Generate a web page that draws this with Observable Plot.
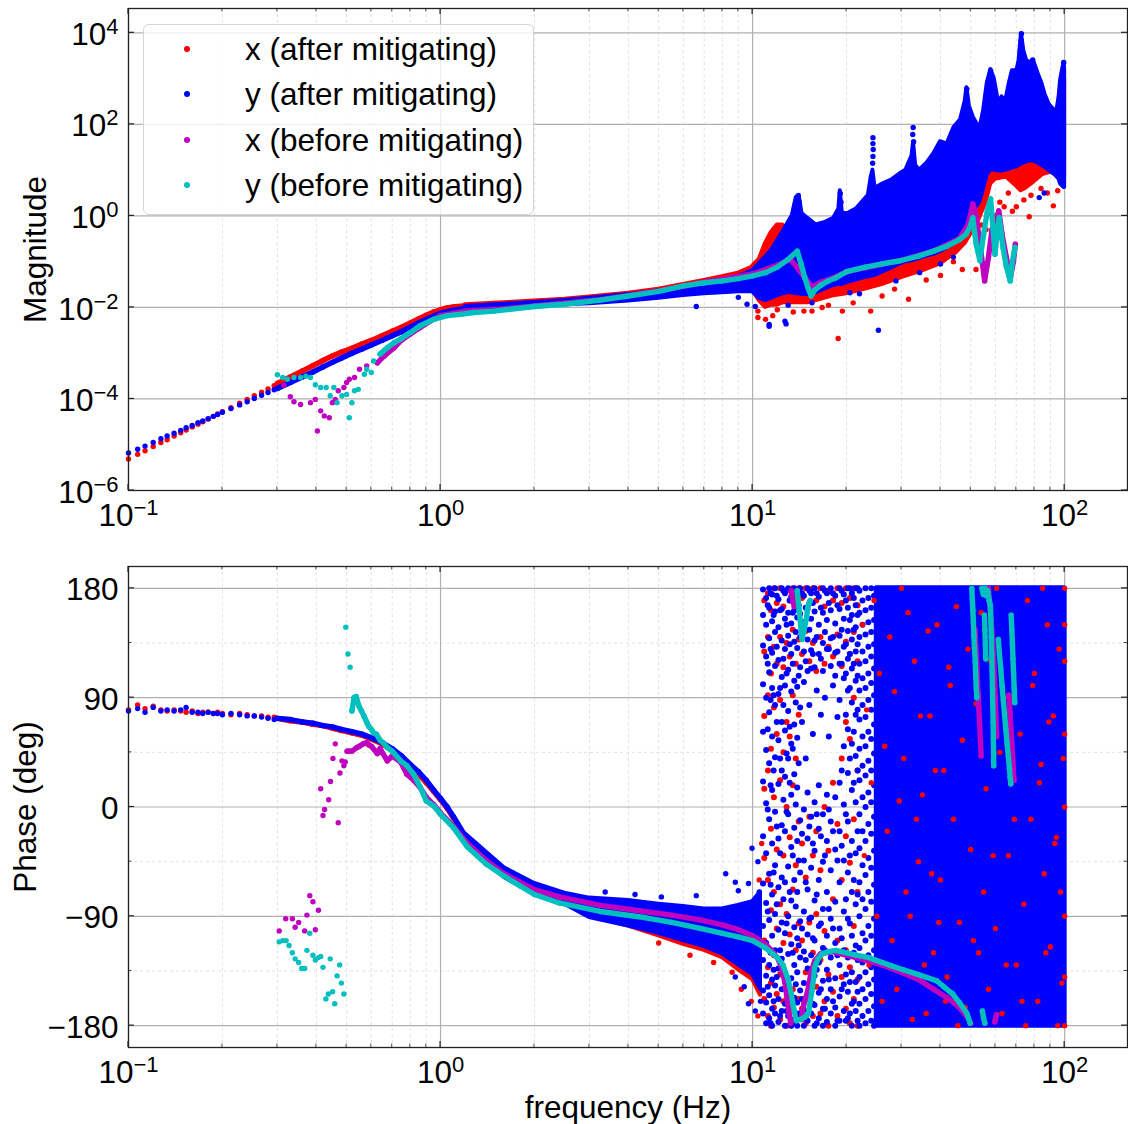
<!DOCTYPE html>
<html>
<head>
<meta charset="utf-8">
<script src="https://cdn.jsdelivr.net/npm/d3@7"></script>
<script src="https://cdn.jsdelivr.net/npm/@observablehq/plot@0.6"></script>
<style>
  html, body { margin: 0; padding: 0; background: #fff; }
  #wrap { position: relative; width: 1128px; height: 1124px; overflow: hidden; font-family: "Liberation Sans", Arial, Helvetica, sans-serif; }
  #wrap svg { display: block; }
  .legend { position: absolute; left: 143px; top: 24px; width: 391px; height: 191px; box-sizing: border-box; background: rgba(255,255,255,0.8); border: 1px solid #d6d6d6; border-radius: 6px; }
  .legend .item { position: absolute; left: 0; height: 40px; width: 100%; }
  .legend .sw { position: absolute; left: 40px; top: 17px; width: 6px; height: 6px; border-radius: 50%; }
  .legend .lab { position: absolute; left: 101px; top: 0; line-height: 40px; font-size: 31.5px; color: #000; white-space: nowrap; }
</style>
</head>
<body>
<div id="wrap">
  <div id="mag"></div>
  <div id="phase"></div>
  <div class="legend">
    <div class="item" style="top:4px"><span class="sw" style="background:#ff0000"></span><span class="lab">x (after mitigating)</span></div>
    <div class="item" style="top:49px"><span class="sw" style="background:#0000ff"></span><span class="lab">y (after mitigating)</span></div>
    <div class="item" style="top:95px"><span class="sw" style="background:#bf00bf"></span><span class="lab">x (before mitigating)</span></div>
    <div class="item" style="top:140px"><span class="sw" style="background:#00bfbf"></span><span class="lab">y (before mitigating)</span></div>
  </div>
</div>
<script>
// ---------------- ticks / labels ----------------
const xMajor = [0.1, 1, 10, 100];
const xMinor = [0.2,0.3,0.4,0.5,0.6,0.7,0.8,0.9,2,3,4,5,6,7,8,9,20,30,40,50,60,70,80,90];
const xTickLabels = ["10^\u22121", "10^0", "10^1", "10^2"];
const magMajor = [1e-6, 1e-4, 1e-2, 1, 1e2, 1e4];
const magTickLabels = ["10^\u22126", "10^\u22124", "10^\u22122", "10^0", "10^2", "10^4"];
const phaseMajor = [-180, -90, 0, 90, 180];
const phaseMinor = [-135, -45, 45, 135];
const phaseTickLabels = ["\u2212180", "\u221290", "0", "90", "180"];

// ---------------- after mitigating: low-frequency points (magnitude as log10) ----------------
const lowF = [0.100,0.107,0.113,0.120,0.127,0.133,0.140,0.147,0.153,0.160,0.167,0.173,0.180,0.187,0.193,0.200,0.213,0.227,0.240,0.253,0.267,0.280,0.293];
const xAfterLowMagExp = [-5.31,-5.21,-5.13,-5.04,-4.95,-4.89,-4.81,-4.74,-4.68,-4.61,-4.55,-4.50,-4.44,-4.38,-4.33,-4.28,-4.19,-4.09,-4.01,-3.93,-3.85,-3.78,-3.71];
const yAfterLowMagExp = [-5.18,-5.10,-5.03,-4.95,-4.87,-4.81,-4.75,-4.69,-4.63,-4.58,-4.52,-4.48,-4.43,-4.38,-4.34,-4.29,-4.21,-4.13,-4.06,-3.99,-3.92,-3.86,-3.80];
const xAfterLowPhase = [80,84,81,83,80,79,80,79,78,79,77,78,78,77,78,77,76,77,76,75,75,74,74];
const yAfterLowPhase = [79,81,78,82,79,80,79,80,82,78,78,77,78,77,77,76,77,76,75,75,74,73,72];

const midF = [0.30,0.33,0.36,0.39,0.42,0.45,0.48,0.52,0.56,0.60,0.65,0.70,0.75,0.80,0.85,0.90,0.95,1.00,1.05,1.10,1.20];
const xAfterMidMagExp = [-3.66,-3.52,-3.39,-3.27,-3.16,-3.06,-2.98,-2.89,-2.80,-2.72,-2.62,-2.52,-2.43,-2.34,-2.25,-2.17,-2.10,-2.05,-2.01,-1.99,-1.96];
const yAfterMidMagExp = [-3.77,-3.64,-3.52,-3.41,-3.30,-3.20,-3.11,-3.00,-2.91,-2.82,-2.72,-2.62,-2.53,-2.43,-2.34,-2.26,-2.19,-2.13,-2.09,-2.06,-2.02];
const xAfterMidPhase = [73,71,70,68,67,65,63,61,59,56,52,47,41,34,27,20,13,6,-1,-9,-25];
const yAfterMidPhase = [73,72,70,69,67,66,64,62,60,57,53,48,42,35,29,22,14,7,0,-8,-24];

// ---------------- after mitigating: 1.2–10 Hz scatter bands ----------------
const bandF = [1.2,1.6,2.0,2.5,3.0,4.0,5.0,6.0,7.0,8.0,9.0,10.0];
const xAfterBandMagLoExp = [-2.00,-1.96,-1.94,-1.90,-1.86,-1.80,-1.74,-1.66,-1.60,-1.55,-1.50,-1.46];
const xAfterBandMagHiExp = [-1.94,-1.90,-1.86,-1.82,-1.77,-1.69,-1.60,-1.50,-1.41,-1.33,-1.25,-1.12];
const yAfterBandMagLoExp = [-2.04,-2.00,-1.97,-1.94,-1.92,-1.86,-1.80,-1.74,-1.70,-1.68,-1.66,-1.66];
const yAfterBandMagHiExp = [-1.98,-1.93,-1.89,-1.85,-1.80,-1.72,-1.64,-1.56,-1.48,-1.40,-1.32,-1.20];
const phBandF = [1.2,1.6,2.0,2.5,3.0,4.0,5.0,6.0,7.0,8.0,9.0,10.0,10.6];
const xAfterBandPhLo = [-29,-57,-71,-79,-90,-98,-106,-113,-118,-124,-134,-142,-155];
const xAfterBandPhHi = [-23,-51,-64,-72,-77,-80,-84,-86,-88,-88,-86,-82,-72];
const yAfterBandPhLo = [-30,-58,-72,-80,-91,-98,-104,-110,-115,-121,-130,-138,-150];
const yAfterBandPhHi = [-22,-50,-63,-71,-75,-77,-80,-82,-84,-84,-81,-78,-70];

// ---------------- after mitigating: 10–100 Hz magnitude clouds (envelopes, log10) ----------------
const xAfterCloudF = [10,10.5,11,11.5,12,12.5,13,14,15,16,18,20,23,26,30,35,40,45,48,50,53,56,58,60,65,70,72.5,75,80,85,90,95,100];
const xAfterCloudLoExp = [-1.62,-1.85,-2.00,-1.95,-1.95,-1.90,-1.90,-1.90,-1.90,-1.85,-1.75,-1.70,-1.60,-1.50,-1.35,-1.20,-1.05,-0.80,-0.60,-0.40,-0.10,0.30,0.70,0.80,0.85,0.65,0.55,0.60,0.75,0.90,0.95,0.90,0.85];
const xAfterCloudHiExp = [-1.10,-0.95,-0.60,-0.35,-0.20,-0.20,-0.35,-0.30,-0.35,-0.40,-0.30,-0.20,0.00,0.30,0.60,0.80,1.10,1.40,1.70,1.60,1.50,1.80,2.90,2.30,2.40,2.60,3.80,3.00,3.00,2.50,2.20,2.20,3.00];
const yAfterCloudF = [10.0,10.5,11.0,11.5,12.0,12.5,13.0,13.4,13.8,14.1,14.4,15.0,16.0,17.0,18.2,18.9,19.1,19.4,20.2,21.5,22.5,23.5,24.0,24.3,24.7,26.2,27.9,29.7,31.0,32.4,32.8,33.3,34.3,36.2,38.0,40.0,42.0,44.2,46.4,48.0,48.6,49.5,51.0,53.5,55.0,56.5,58.0,59.5,61.5,63.0,64.7,66.5,68.0,69.7,71.5,72.7,74.0,75.6,77.5,79.5,82.3,84.5,86.5,89.0,90.9,93.0,94.5,96.0,97.0,98.5,99.6,100.0];
const yAfterCloudLoExp = [-1.66,-1.80,-1.85,-1.80,-1.75,-1.70,-1.68,-1.68,-1.70,-1.70,-1.72,-1.72,-1.68,-1.60,-1.52,-1.50,-1.50,-1.50,-1.45,-1.40,-1.36,-1.33,-1.32,-1.31,-1.30,-1.22,-1.14,-1.05,-1.00,-0.98,-0.97,-0.96,-0.93,-0.88,-0.84,-0.78,-0.70,-0.60,-0.40,-0.25,-0.20,-0.10,0.10,0.30,0.60,0.90,1.00,1.00,0.98,0.98,1.00,1.02,1.05,1.06,1.10,1.15,1.15,1.18,1.20,1.20,1.15,1.10,1.06,1.00,0.95,0.90,0.85,0.80,0.70,0.65,0.62,0.62];
const yAfterCloudHiExp = [-1.20,-1.05,-0.90,-0.75,-0.55,-0.35,-0.15,0.00,0.40,0.45,0.05,-0.05,-0.20,-0.15,-0.05,0.15,0.55,0.05,0.05,0.15,0.30,0.45,0.85,1.00,0.60,0.70,0.78,0.92,1.00,1.30,1.60,1.10,1.00,1.15,1.35,1.62,1.57,1.93,2.10,2.50,2.80,2.40,2.15,1.90,2.30,2.90,3.20,3.00,2.45,2.60,2.50,2.90,3.17,3.05,3.40,3.98,3.60,3.39,3.35,3.39,3.10,2.90,2.66,2.45,2.37,2.30,2.30,2.60,2.95,3.20,3.35,3.20];
const xAfterMagOutF = [10.4,11.0,10.4,14.6,15.5,16.7,18.8,19.4,23.9,31.6,47.0,52.0,77.0,92.0,12.0,13.5,11.6,17.5,21.0,26.0,28.5,36.0,40.0,44.0,56.0,60.0,64.0,68.0,62.0,66.0,70.0,74.0,78.0,84.0,88.0,95.0,57.0,54.0];
const xAfterMagOutExp = [-2.22,-2.26,-2.08,-2.08,-2.08,-2.00,-2.68,-2.08,-2.08,-1.82,-1.17,-1.17,-0.02,0.22,-2.05,-2.10,-2.18,-1.95,-1.90,-1.75,-1.60,-1.40,-1.30,-1.00,-0.30,0.00,0.20,0.10,0.30,0.50,0.20,0.35,0.45,0.60,0.50,0.55,0.10,-0.20];
const yAfterMagOutF = [6.6,9.6,11.3,12.8,11.3,12.7,25.3,28.8,34.3,9.0,10.2,13.0,15.5,20.5,22.0,40.0,44.0,14.0,14.1,19.1,19.2,24.3,24.3,24.35,24.3,24.25,32.7,32.6,32.8,48.6,48.5,57.9,57.9,58.0,69.2,72.7,72.6,79.0,99.3,82.9,86.0,63.3];
const yAfterMagOutExp = [-1.98,-1.93,-2.37,-2.36,-2.41,-2.30,-2.50,-1.42,-1.24,-1.78,-1.98,-1.95,-1.90,-1.68,-1.70,-1.05,-0.90,0.44,0.30,0.49,0.30,1.71,1.58,1.45,1.30,1.15,1.93,1.78,1.62,2.77,2.62,3.17,2.96,2.64,3.17,3.98,3.83,3.41,3.35,0.40,0.50,2.44];

// ---------------- after mitigating: phase scatter above 10 Hz ----------------
const xAfterPhaseOutF = [5.0,6.3,7.5,8.6,9.2,9.9,10.4,10.5,10.0,9.5,10.7,10.3];
const xAfterPhaseOut = [-112,-122,-128,-136,-150,-160,-172,-60,-90,-80,-30,-120];
const yAfterPhaseOutF = [3.37,4.2,5.1,6.6,8.2,8.8,9.0,9.7,9.7,8.8,9.4,10.1,10.3,10.5,10.4,10.6,10.2,9.96];
const yAfterPhaseOut = [-70,-72,-74,-73,-55,-62,-69,-63,-162,-140,-148,-130,-100,-70,-45,-160,-168,-34];
const yAfterPhaseCloud = [
  [10.8,[179,158,133,101,62,21,-24,-63,-98,-126,-151,-170]],
  [11.05,[172,150,124,90,47,3,-38,-79,-112,-139,-161,-178]],
  [11.3,[180,164,139,111,78,36,-10,-55,-93,-130,-155,-174]],
  [11.55,[175,153,127,98,58,14,-30,-72,-106,-142,-166,-180]],
  [11.8,[180,161,144,116,84,41,-4,-48,-88,-118,-147,-170]],
  [12.1,[171,148,121,93,55,19,-26,-66,-101,-133,-158,-177]],
  [12.4,[180,163,137,107,70,30,-15,-58,-95,-125,-150,-168]],
  [12.7,[176,155,130,100,63,25,-20,-62,-104,-137,-162,-180]],
  [13.0,[180,160,141,113,79,40,-6,-49,-90,-121,-146,-172]],
  [13.3,[173,151,126,95,52,10,-33,-77,-113,-141,-165,-180]],
  [13.6,[180,162,136,104,68,27,-17,-60,-99,-130,-157,-175]],
  [13.9,[177,156,131,99,57,16,-28,-70,-108,-136,-161,-180]],
  [14.2,[180,159,140,115,82,-11,-54,-94,-124,-151,-171]],
  [14.6,[174,152,128,103,-2,-44,-86,-119,-145,-167,-180]],
  [15.0,[180,163,138,112,12,-26,-68,-105,-133,-158,-176]],
  [15.4,[176,155,129,114,-8,-50,-91,-122,-148,-170]],
  [15.8,[180,161,137,115,4,-36,-77,-110,-139,-163,-180]],
  [16.3,[173,150,126,18,-18,-60,-98,-128,-153,-174]],
  [16.8,[180,160,135,112,-6,-45,-84,-116,-143,-166,-180]],
  [17.3,[176,154,130,10,-28,-70,-106,-134,-158,-177]],
  [17.8,[180,162,139,116,-12,-52,-92,-124,-150,-170]],
  [18.4,[174,151,127,108,8,-35,-78,-112,-141,-165,-180]],
  [19.0,[180,163,141,118,88,20,-20,-62,-100,-130,-156,-176]],
  [19.6,[175,155,132,106,50,2,-44,-86,-118,-146,-168]],
  [20.2,[180,164,145,122,96,64,28,-12,-54,-92,-124,-152,-174]],
  [20.8,[176,158,138,114,86,52,14,-28,-70,-106,-136,-162,-180]],
  [21.4,[180,166,148,128,104,76,42,4,-38,-80,-114,-144,-168]],
  [11.18,[166,118,64,-2,-86,-148]],
  [11.42,[176,130,88,18,-64,-120,-178]],
  [11.68,[158,92,30,-54,-134,-160]],
  [11.95,[174,132,70,-16,-80,-140]],
  [12.25,[162,98,40,-38,-118,-172]],
  [12.55,[178,122,84,6,-76,-138]],
  [12.85,[150,110,44,-4,-96,-168]],
  [13.15,[170,134,66,20,-70,-152]],
  [13.45,[160,118,48,-40,-120,-178]],
  [13.75,[174,144,86,2,-82,-146]],
  [14.05,[166,108,36,-44,-114,-170]],
  [14.4,[176,140,70,-22,-100,-158]],
  [14.8,[164,120,40,-62,-126,-174]],
  [15.2,[178,146,84,-16,-92,-146]],
  [15.6,[168,126,60,-30,-108,-162]],
  [16.05,[176,140,96,-6,-72,-134,-178]],
  [16.55,[164,122,76,-24,-96,-150]],
  [17.05,[178,144,90,-40,-118,-166]],
  [17.55,[168,130,58,-2,-84,-142]],
  [18.1,[176,140,100,-20,-100,-160]],
  [18.7,[166,128,74,-44,-122,-176]],
  [19.3,[178,146,118,30,-32,-108,-150]],
  [19.9,[170,134,110,76,-6,-76,-138,-176]],
  [20.5,[180,154,126,98,40,-40,-96,-144,-170]],
  [21.1,[172,146,118,62,20,-60,-120,-160]],
  [21.7,[180,158,134,108,80,30,-20,-72,-126,-152,-176]],
  [22.0,[178,160,140,118,96,72,48,22,-6,-34,-62,-90,-116,-140,-162,-180]],
  [22.5,[170,150,128,106,84,58,34,8,-20,-48,-76,-104,-128,-150,-172]],
  [23.0,[180,162,142,120,98,74,50,26,0,-28,-56,-84,-110,-136,-158,-178]],
  [23.5,[172,152,132,110,88,62,38,12,-14,-42,-70,-98,-122,-146,-168]],
  [24.0,[180,164,144,124,102,80,56,30,4,-22,-50,-78,-106,-132,-154,-176]],
  [24.5,[174,154,134,114,92,68,44,18,-8,-36,-64,-92,-118,-142,-164,-180]]
];
const xAfterPhaseCloud = [
  [10.9,[170,128,75,15,-42,-110,-158]],
  [11.2,[176,140,92,30,-60,-132,-172]],
  [11.45,[162,110,48,-18,-85,-145,-180]],
  [11.7,[180,132,82,8,-70,-122,-165]],
  [11.95,[168,118,60,-35,-100,-154]],
  [12.25,[180,140,88,22,-80,-138,-175]],
  [12.55,[165,115,45,-40,-112,-160]],
  [12.85,[178,135,70,0,-88,-142,-180]],
  [13.15,[170,124,58,-25,-105,-168]],
  [13.45,[180,146,92,18,-68,-150]],
  [13.75,[166,118,40,-48,-118,-174]],
  [14.05,[180,138,76,-12,-96,-158]],
  [14.4,[172,126,-30,-110,-166]],
  [14.8,[180,145,-58,-136,-178]],
  [15.2,[168,120,-8,-95,-155]],
  [15.6,[180,135,-40,-120,-172]],
  [16.0,[170,112,-20,-88,-148]],
  [16.5,[180,140,-52,-126,-170]],
  [17.0,[165,118,0,-102,-160]],
  [17.5,[178,132,-36,-138,-180]],
  [18.1,[170,124,20,-76,-152]],
  [18.7,[180,142,-14,-110,-172]],
  [19.3,[168,116,40,-60,-140]],
  [19.9,[180,136,70,-24,-118,-166]],
  [20.5,[172,126,56,-46,-132,-178]],
  [21.1,[180,144,90,-10,-98,-158]],
  [21.7,[166,120,30,-70,-142,-180]]
];
// fully covered (wrapped) phase region of y (after)
const yAfterPhaseFullF = [25, 100];
const yAfterPhaseFullLo = [-180, -180];
const yAfterPhaseFullHi = [180, 180];
const xAfterPhaseSpecks = [[22.5,150],[22.8,-40],[23.2,80],[23.6,-130],[24.0,20],[24.5,170],[25,-90],[25.5,110],[26,-160],[26.5,50],[27,-20],[27.5,140],[28,-110],[28.5,95],[29,-150],[29.5,5],[30,180],[30.5,40],[31,-70],[31.5,160],[32,-90],[32.5,-175],[33,120],[33.5,-10],[34,-45],[34.5,75],[35,10],[35.5,-130],[36,-170],[36.5,145],[37,75],[37.5,-55],[38,-120],[38.5,30],[39,150],[39.5,-95],[40,-60],[41,30],[41.5,-160],[42,-140],[42.5,115],[43,100],[44,-10],[45,165],[45.5,-180],[46,-95],[47,55],[48,-165],[49,130],[50,-35],[51,-110],[52,85],[53,-120],[54,160],[55,-70],[56,15],[57,-150],[58,120],[59,-40],[60,-100],[60.5,180],[62,45],[63,-170],[64,90],[65,-130],[66,-40],[68,140],[69,-10],[70,-130],[72,60],[73,-160],[74,-80],[75,-180],[76,170],[78,-10],[79,100],[80,110],[82,-160],[83,20],[84,35],[85,180],[86,-55],[87,-120],[88,150],[89,70],[90,-115],[92,75],[93,-30],[94,-25],[95,-180],[96,130],[97,-70],[98,-145],[99,40],[100,180],[100,-180],[100,60],[100,-90],[100,120],[100,0],[100,-140],[100,150]];

// ---------------- x (before mitigating), magenta ----------------
const xBeforeMagScatterF = [0.315,0.33,0.339,0.356,0.383,0.397,0.403,0.413,0.424,0.44,0.45,0.46,0.47,0.49,0.50,0.51,0.53,0.55,0.58];
const xBeforeMagScatterExp = [-3.70,-3.95,-4.06,-4.12,-4.08,-4.01,-4.70,-4.26,-4.37,-4.41,-4.08,-4.01,-3.82,-3.75,-3.64,-3.57,-3.53,-3.35,-3.28];
const xBeforeMagF = [0.627,0.66,0.71,0.745,0.80,0.86,0.93,1.0,1.22,1.55,2.0,3.25,5.0,7.0,10,12,13.2,13.8,14.5,15.5,16.5,18.2,20,25,30,38,46,49,50.8,52,53.5,55.4,57,58.5,60,61.5,63,65,67,68.5,69.5];
const xBeforeMagExp = [-3.21,-3.06,-2.88,-2.73,-2.58,-2.44,-2.29,-2.18,-2.07,-2.04,-1.97,-1.83,-1.64,-1.45,-1.27,-1.08,-0.95,-1.10,-1.30,-1.55,-1.45,-1.35,-1.22,-1.08,-0.97,-0.77,-0.50,-0.20,0.26,0.00,-0.60,-1.42,-0.90,-0.30,-0.20,0.11,-0.40,-0.90,-1.35,-1.00,-0.62];
const xBeforePhaseScatterF = [0.304,0.319,0.335,0.342,0.351,0.367,0.373,0.381,0.390,0.397,0.406,0.413,0.420,0.425,0.438,0.444,0.452,0.460,0.470,0.476,0.483,0.490,0.495];
const xBeforePhaseScatter = [-102,-92,-92,-99,-95,-102,-89,-73,-78,-101,-85,15,-7,-2,6,21,40,52,-13,28,38,34,37];
const xBeforePhaseF = [0.502,0.51,0.52,0.54,0.55,0.565,0.58,0.59,0.60,0.627,0.64,0.675,0.70,0.745,0.78,0.82,0.86,0.90,0.95,1.0,1.1,1.22,1.4,1.6,1.8,2.0,2.4,3.25,4.5,5.5,6.8,8,9,10,11,11.5,12,12.4,12.7,12.9,13.1,13.25,13.25,13.3,13.45,13.6,13.75,13.9,13.9,14.3,14.6,15.0,15.4,15.8,16.5,18,20,23,26,30,34,38,42,46,48.5,50];
const xBeforePhase = [46,46,46,49,50,52,53,51,50,44,48,38,42,37,27,22,16,8,2,-5,-16,-30,-44,-55,-62,-68,-74,-81,-86,-89,-93,-97,-101,-106,-113,-118,-124,-132,-145,-158,-170,-178,null,178,170,165,168,176,null,-175,-162,-152,-136,-127,-121,-119,-122,-126,-130,-136,-142,-150,-157,-165,-172,-178];
const xBeforePhaseStreaks = [[51.6,146],[51.9,133],[52.2,120],[52.5,107],[52.8,94],[53.1,81],[53.4,68],[53.7,55],[54.0,42],null,[57.0,180],[57.4,170],[57.8,160],[58.3,148],[58.8,135],[59.2,121],[59.6,106],[59.9,90],[60.2,74],[60.5,58],null,[66.3,92],[66.8,78],[67.3,64],[67.8,50],[68.3,36],[68.8,22],null,[59.7,-177],[60.5,-171]];

// ---------------- y (before mitigating), cyan ----------------
const yBeforeMagScatterF = [0.300,0.312,0.323,0.339,0.356,0.37,0.383,0.397,0.413,0.43,0.443,0.455,0.466,0.483,0.50,0.51,0.52,0.53,0.545,0.57,0.58,0.60,0.61];
const yBeforeMagScatterExp = [-3.47,-3.53,-3.57,-3.53,-3.53,-3.50,-3.53,-3.69,-3.75,-3.75,-3.93,-3.75,-4.08,-3.93,-3.90,-4.41,-4.08,-3.82,-3.79,-3.46,-3.35,-3.42,-3.17];
const yBeforeMagF = [0.64,0.675,0.71,0.745,0.80,0.86,0.95,1.05,1.16,1.28,1.48,2.0,2.5,3.25,4.0,5.0,6.0,7.0,8.0,9.0,10,11,12,13,13.9,14.3,14.7,15.1,15.4,15.8,16.5,17.5,18.5,20,23,26,29.7,34,38,42,46,48.4,50,50.8,52,53.5,55,56.5,57.9,59,59.8,60.7,61.7,63.5,65,66.9,68,69.3];
const yBeforeMagExp = [-3.02,-2.88,-2.77,-2.69,-2.55,-2.40,-2.26,-2.18,-2.15,-2.11,-2.08,-1.98,-1.93,-1.84,-1.75,-1.65,-1.53,-1.46,-1.42,-1.37,-1.31,-1.24,-1.12,-0.95,-0.77,-1.05,-1.35,-1.60,-1.75,-1.62,-1.52,-1.42,-1.35,-1.22,-1.12,-1.05,-0.98,-0.88,-0.77,-0.66,-0.52,-0.40,-0.20,-0.04,-0.60,-0.98,-0.40,0.10,0.37,-0.30,-0.84,-0.40,-0.04,-0.70,-1.10,-1.42,-1.00,-0.69];
const yBeforePhaseScatterF = [0.304,0.312,0.320,0.327,0.335,0.342,0.351,0.359,0.367,0.373,0.381,0.390,0.397,0.406,0.413,0.420,0.429,0.437,0.443,0.451,0.458,0.466,0.475,0.481,0.490,0.497,0.505,0.513];
const yBeforePhaseScatter = [-111,-110,-110,-114,-120,-125,-128,-133,-133,-118,-104,-122,-126,-124,-123,-132,-158,-154,-125,-152,-162,-139,-130,-145,-154,148,126,115];
const yBeforePhaseF = [0.52,0.528,0.536,0.548,0.558,0.568,0.575,0.582,0.59,0.60,0.61,0.623,0.64,0.66,0.675,0.70,0.745,0.78,0.82,0.862,0.90,0.95,1.0,1.1,1.22,1.4,1.6,1.8,2.0,2.4,3.25,4.5,5.5,6.8,8,9,10,11,12,12.5,13,13.3,13.6,13.8,13.8,13.9,14.0,14.1,14.25,14.4,14.6,14.9,15.0,15.3,15.3,14.2,14.7,15.1,15.3,15.5,15.7,15.8,16.2,16.7,17.5,18.5,20,21.5,23.6,26,28,30.4,34,38.9,41,43.8,46,47.5,48.6,49.8];
const yBeforePhase = [79,90,91,83,79,75,72,69,66,64,61,60,55,52,49,46,38,34,27,16,5,1,-6,-17,-33,-47,-57,-65,-72,-79,-86,-91,-95,-100,-104,-107,-110,-116,-124,-130,-142,-154,-168,-176,null,178,170,162,150,138,145,156,164,170,null,-175,-173,-170,-160,-151,-140,-132,-125,-121,-119,-118,-120,-122,-124,-128,-131,-134,-138,-143,-148,-154,-161,-166,-170,-178];
const yBeforePhaseStreaks = [[50.4,180],[50.6,171],[50.8,162],[51.0,152],[51.2,141],[51.4,131],[51.7,120],[51.9,108],[52.1,98],[52.3,90],null,[54.3,180],[54.9,175],[55.5,180],[56.1,174],[56.7,178],[57.3,170],[57.8,166],[58.0,154],[58.2,140],[58.4,126],[58.55,112],[58.7,98],[58.85,84],[59.0,70],[59.1,56],[59.2,44],[59.25,34],null,[55.3,158],[55.5,146],[55.7,134],[55.9,122],null,[61.3,138],[61.8,126],[62.4,114],[63.0,100],[63.6,88],[64.2,76],[64.8,64],[65.4,52],[66.0,42],[66.5,32],[66.9,24],[67.2,19],null,[67.4,158],[67.7,146],[68.0,134],[68.3,122],[68.6,110],[68.9,98],[69.2,86],null,[54.5,-168],[55.0,-174],[55.5,-178]];

// ---------------- table builders ----------------
const pow10 = e => (e == null ? null : 10 ** e);
const ident = v => v;
const rows = (fs, vs, conv = ident) => fs.map((f, i) => ({f, v: conv(vs[i])}));
const bandRows = (fs, lo, hi, conv = ident) => fs.map((f, i) => ({f, lo: conv(lo[i]), hi: conv(hi[i])}));
const colRows = cols => cols.flatMap(([f, ps]) => ps.map(v => ({f, v})));
const pairRows = pairs => pairs.map(p => (p ? {f: p[0], v: p[1]} : {f: null, v: null}));

const RED = "#ff0000", BLUE = "#0000ff", MAG = "#bf00bf", CYAN = "#00bfbf";
const R = 2.7, LW = 5.4, FS = 31.5;
const FONT = '"Liberation Sans", Arial, Helvetica, sans-serif';

const dots = (data, color, r = R) => Plot.dot(data, {x: "f", y: "v", r, fill: color});
const line = (data, color, w = LW) => Plot.line(data, {x: "f", y: "v", stroke: color, strokeWidth: w, strokeLinecap: "round", strokeLinejoin: "round"});
const band = (data, color, w = 4) => Plot.areaY(data, {x: "f", y1: "lo", y2: "hi", fill: color, stroke: color, strokeWidth: w, strokeLinejoin: "round"});

function gridMarks(yMajor, yMinor) {
  const m = [
    Plot.ruleX(xMinor, {stroke: "#dadada", strokeWidth: 0.8, strokeDasharray: "3,3"}),
    Plot.ruleX(xMajor, {stroke: "#b0b0b0", strokeWidth: 1.2}),
    Plot.ruleY(yMajor, {stroke: "#b0b0b0", strokeWidth: 1.2})
  ];
  if (yMinor) m.splice(1, 0, Plot.ruleY(yMinor, {stroke: "#dadada", strokeWidth: 0.8, strokeDasharray: "3,3"}));
  return m;
}
function labelMarks(yTicks, yLabels, title, titleDx) {
  return [
    Plot.frame({stroke: "#222", strokeWidth: 1.3}),
    Plot.text(xMajor, {x: d => d, frameAnchor: "bottom", dy: 13, lineAnchor: "top", textAnchor: "middle", text: (d, i) => xTickLabels[i], fontSize: FS, fill: "#000"}),
    Plot.text(yTicks, {y: d => d, frameAnchor: "left", dx: -10, dy: 2, lineAnchor: "middle", textAnchor: "end", text: (d, i) => yLabels[i], fontSize: FS, fill: "#000"}),
    Plot.text([title], {frameAnchor: "left", dx: titleDx, rotate: -90, textAnchor: "middle", lineAnchor: "bottom", text: d => d, fontSize: FS, fill: "#000"})
  ];
}
function finish(svg, yMajor, yMinor) {
  const sx = svg.scale("x"), sy = svg.scale("y");
  const [xl, xr] = sx.range, [yb, yt] = sy.range;
  const g = d3.select(svg).append("g").attr("stroke", "#222").attr("fill", "none");
  const seg = (x1, y1, x2, y2, w) => g.append("line").attr("x1", x1).attr("y1", y1).attr("x2", x2).attr("y2", y2).attr("stroke-width", w);
  const xt = (vals, len, w) => vals.forEach(v => { const x = sx.apply(v); seg(x, yb, x, yb - len, w); seg(x, yt, x, yt + len, w); });
  const yt2 = (vals, len, w) => vals.forEach(v => { const y = sy.apply(v); seg(xl, y, xl + len, y, w); seg(xr, y, xr - len, y, w); });
  xt(xMajor, 6, 1.2); xt(xMinor, 3.5, 0.8);
  yt2(yMajor, 6, 1.2); if (yMinor) yt2(yMinor, 3.5, 0.8);
  d3.select(svg).selectAll("text").each(function () {
    const t = this.textContent, k = t.indexOf("^");
    if (k < 0) return;
    const s = d3.select(this);
    s.text(null);
    s.append("tspan").text(t.slice(0, k));
    s.append("tspan").attr("dy", "-0.5em").attr("font-size", "22px").text(t.slice(k + 1));
  });
  return svg;
}

// ---------------- magnitude panel ----------------
const magPlot = Plot.plot({
  width: 1128, height: 540, marginLeft: 128, marginRight: 1, marginTop: 8, marginBottom: 50,
  style: {fontFamily: FONT, fontSize: FS + "px", background: "transparent", color: "#000"},
  x: {type: "log", domain: [0.1, 159], axis: null},
  y: {type: "log", domain: [1e-6, 3.4e4], axis: null},
  marks: [
    ...gridMarks(magMajor),
    band(bandRows(xAfterCloudF, xAfterCloudLoExp, xAfterCloudHiExp, pow10), RED),
    band(bandRows(bandF, xAfterBandMagLoExp, xAfterBandMagHiExp, pow10), RED),
    line(rows(midF, xAfterMidMagExp, pow10), RED),
    dots(rows(lowF, xAfterLowMagExp, pow10), RED),
    dots(rows(midF, xAfterMidMagExp, pow10), RED),
    dots(rows(xAfterMagOutF, xAfterMagOutExp, pow10), RED),
    band(bandRows(yAfterCloudF, yAfterCloudLoExp, yAfterCloudHiExp, pow10), BLUE),
    band(bandRows(bandF, yAfterBandMagLoExp, yAfterBandMagHiExp, pow10), BLUE),
    line(rows(midF, yAfterMidMagExp, pow10), BLUE),
    dots(rows(lowF, yAfterLowMagExp, pow10), BLUE),
    dots(rows(midF, yAfterMidMagExp, pow10), BLUE),
    dots(rows(yAfterMagOutF, yAfterMagOutExp, pow10), BLUE),
    line(rows(xBeforeMagF, xBeforeMagExp, pow10), MAG),
    dots(rows(xBeforeMagF, xBeforeMagExp, pow10), MAG),
    dots(rows(xBeforeMagScatterF, xBeforeMagScatterExp, pow10), MAG),
    line(rows(yBeforeMagF, yBeforeMagExp, pow10), CYAN),
    dots(rows(yBeforeMagF, yBeforeMagExp, pow10), CYAN),
    dots(rows(yBeforeMagScatterF, yBeforeMagScatterExp, pow10), CYAN),
    ...labelMarks(magMajor, magTickLabels, "Magnitude", -83)
  ]
});
document.getElementById("mag").appendChild(finish(magPlot, magMajor, null));

// ---------------- phase panel ----------------
const phasePlot = Plot.plot({
  width: 1128, height: 584, marginLeft: 128, marginRight: 1, marginTop: 26, marginBottom: 77,
  style: {fontFamily: FONT, fontSize: FS + "px", background: "transparent", color: "#000"},
  x: {type: "log", domain: [0.1, 159], axis: null},
  y: {type: "linear", domain: [-198, 198], axis: null},
  marks: [
    ...gridMarks(phaseMajor, phaseMinor),
    band(bandRows(phBandF, xAfterBandPhLo, xAfterBandPhHi), RED),
    line(rows(midF, xAfterMidPhase), RED),
    dots(rows(lowF, xAfterLowPhase), RED),
    dots(rows(midF, xAfterMidPhase), RED),
    dots(colRows(xAfterPhaseCloud), RED, 3),
    dots(rows(xAfterPhaseOutF, xAfterPhaseOut), RED),
    band(bandRows(phBandF, yAfterBandPhLo, yAfterBandPhHi), BLUE),
    line(rows(midF, yAfterMidPhase), BLUE),
    dots(rows(lowF, yAfterLowPhase), BLUE),
    dots(rows(midF, yAfterMidPhase), BLUE),
    dots(colRows(yAfterPhaseCloud), BLUE, 3),
    band(bandRows(yAfterPhaseFullF, yAfterPhaseFullLo, yAfterPhaseFullHi), BLUE, 5),
    dots(rows(yAfterPhaseOutF, yAfterPhaseOut), BLUE),
    dots(pairRows(xAfterPhaseSpecks), RED),
    line(rows(xBeforePhaseF, xBeforePhase), MAG),
    dots(rows(xBeforePhaseF, xBeforePhase), MAG),
    dots(rows(xBeforePhaseScatterF, xBeforePhaseScatter), MAG),
    line(pairRows(xBeforePhaseStreaks), MAG),
    dots(pairRows(xBeforePhaseStreaks), MAG),
    line(rows(yBeforePhaseF, yBeforePhase), CYAN),
    dots(rows(yBeforePhaseF, yBeforePhase), CYAN),
    dots(rows(yBeforePhaseScatterF, yBeforePhaseScatter), CYAN),
    line(pairRows(yBeforePhaseStreaks), CYAN),
    dots(pairRows(yBeforePhaseStreaks), CYAN),
    ...labelMarks(phaseMajor, phaseTickLabels, "Phase (deg)", -93),
    Plot.text(["frequency (Hz)"], {frameAnchor: "bottom", dy: 70, lineAnchor: "bottom", textAnchor: "middle", text: d => d, fontSize: FS, fill: "#000"})
  ]
});
document.getElementById("phase").appendChild(finish(phasePlot, phaseMajor, phaseMinor));
</script>
</body>
</html>
